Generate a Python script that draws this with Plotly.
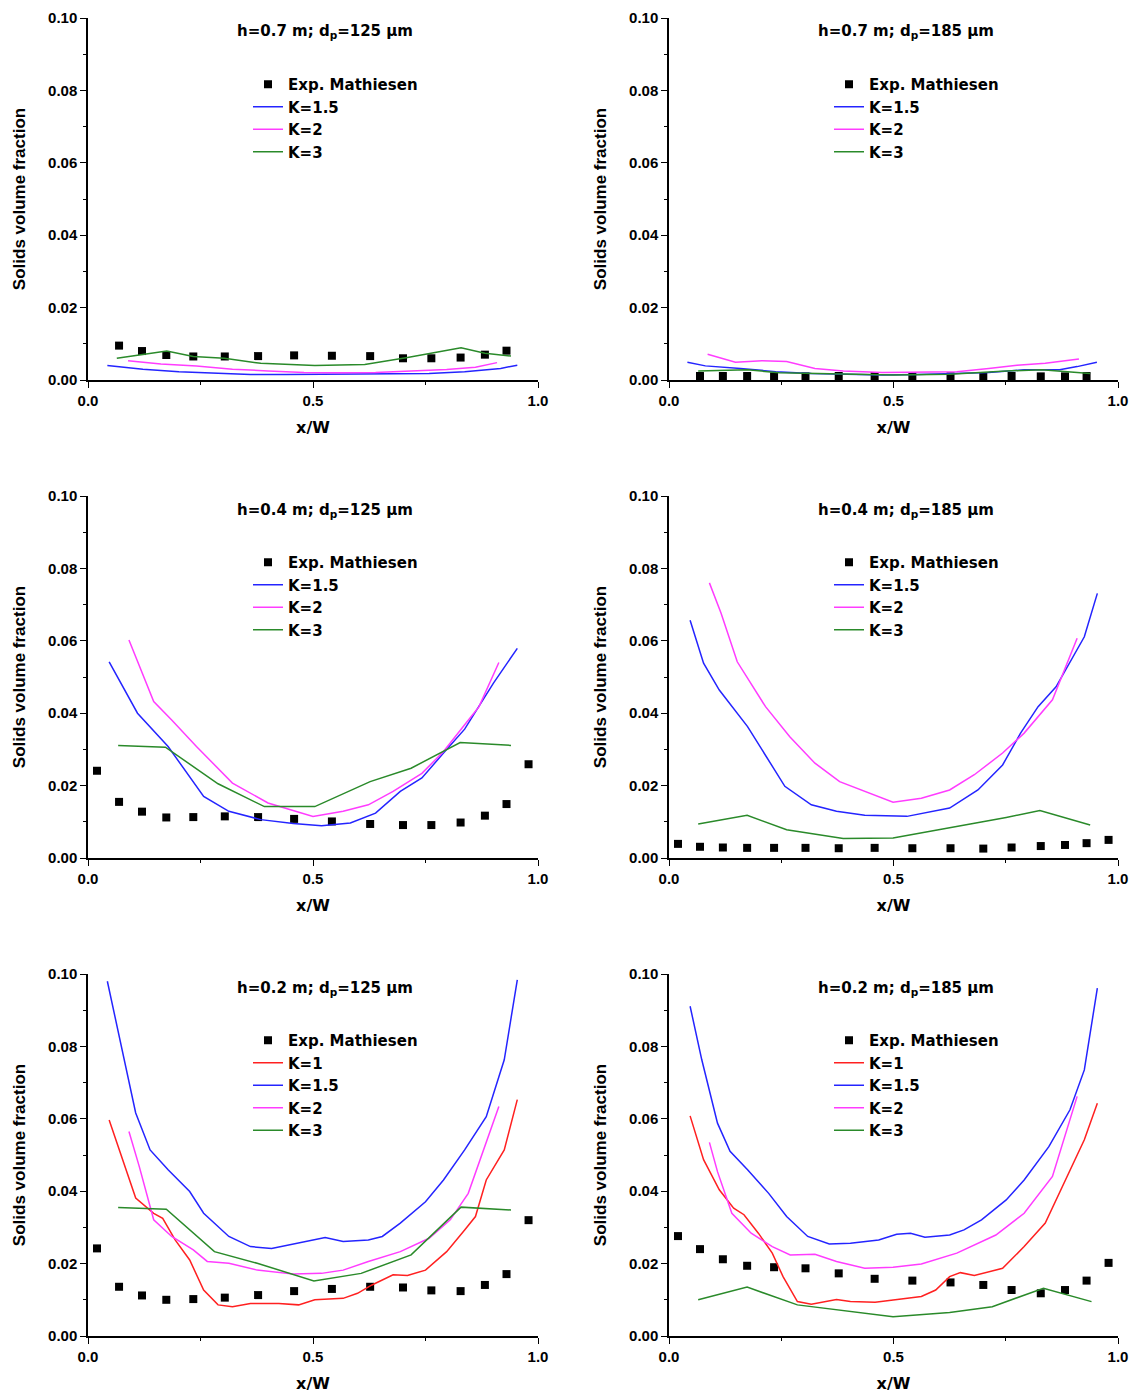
import plotly.graph_objects as go

# ---------------------------------------------------------------- data
# Experimental positions (x/W) of the Mathiesen measurements
EXP_X_FULL = [0.020, 0.069, 0.120, 0.174, 0.234, 0.304, 0.378, 0.458,
              0.542, 0.627, 0.700, 0.763, 0.828, 0.882, 0.930, 0.979]
EXP_X_INNER = EXP_X_FULL[1:15]

# h = 0.7 m, dp = 125 um
EXP_07_125 = [0.0095, 0.0080, 0.0069, 0.0065, 0.0065, 0.0066, 0.0068,
              0.0067, 0.0066, 0.0060, 0.0060, 0.0062, 0.0070, 0.0081]
K15_07_125_X = [0.043, 0.122, 0.202, 0.281, 0.361, 0.440, 0.519, 0.599, 0.678, 0.758, 0.837, 0.917, 0.954]
K15_07_125_Y = [0.0040, 0.0030, 0.0023, 0.0018, 0.0015, 0.0015, 0.0016, 0.0017, 0.0018, 0.0018, 0.0023, 0.0032, 0.0041]
K2_07_125_X = [0.089, 0.162, 0.241, 0.321, 0.400, 0.480, 0.559, 0.639, 0.718, 0.797, 0.861, 0.909]
K2_07_125_Y = [0.0053, 0.0044, 0.0039, 0.0030, 0.0025, 0.0021, 0.0020, 0.0021, 0.0025, 0.0029, 0.0035, 0.0048]
K3_07_125_X = [0.064, 0.175, 0.234, 0.303, 0.384, 0.504, 0.615, 0.710, 0.829, 0.882, 0.940]
K3_07_125_Y = [0.0060, 0.0080, 0.0065, 0.0060, 0.0046, 0.0040, 0.0043, 0.0062, 0.0089, 0.0074, 0.0066]

# h = 0.7 m, dp = 185 um
EXP_07_185 = [0.0011, 0.0011, 0.0011, 0.0010, 0.0010, 0.0011, 0.0011,
              0.0010, 0.0010, 0.0010, 0.0011, 0.0010, 0.0010, 0.0011]
K15_07_185_X = [0.041, 0.081, 0.159, 0.238, 0.317, 0.396, 0.475, 0.554, 0.633, 0.712, 0.791, 0.870, 0.909, 0.953]
K15_07_185_Y = [0.0049, 0.0039, 0.0032, 0.0023, 0.0018, 0.0015, 0.0014, 0.0015, 0.0017, 0.0021, 0.0028, 0.0028, 0.0037, 0.0049]
K2_07_185_X = [0.086, 0.148, 0.207, 0.262, 0.325, 0.388, 0.475, 0.562, 0.641, 0.712, 0.775, 0.838, 0.913]
K2_07_185_Y = [0.0071, 0.0049, 0.0053, 0.0051, 0.0032, 0.0025, 0.0021, 0.0021, 0.0023, 0.0032, 0.0041, 0.0046, 0.0058]
K3_07_185_X = [0.065, 0.175, 0.246, 0.388, 0.499, 0.625, 0.751, 0.830, 0.938]
K3_07_185_Y = [0.0025, 0.0028, 0.0020, 0.0016, 0.0014, 0.0016, 0.0025, 0.0028, 0.0018]

# h = 0.4 m, dp = 125 um
EXP_04_125 = [0.0241, 0.0155, 0.0128, 0.0112, 0.0113, 0.0115, 0.0113, 0.0108,
              0.0101, 0.0094, 0.0091, 0.0091, 0.0098, 0.0117, 0.0149, 0.0259]
K15_04_125_X = [0.047, 0.110, 0.178, 0.257, 0.313, 0.384, 0.456, 0.519, 0.583, 0.639, 0.694, 0.742, 0.790, 0.837, 0.901, 0.954]
K15_04_125_Y = [0.0542, 0.0400, 0.0308, 0.0170, 0.0129, 0.0106, 0.0095, 0.0089, 0.0097, 0.0124, 0.0184, 0.0221, 0.0290, 0.0356, 0.0483, 0.0579]
K2_04_125_X = [0.091, 0.146, 0.186, 0.241, 0.321, 0.400, 0.500, 0.567, 0.623, 0.678, 0.742, 0.790, 0.837, 0.869, 0.913]
K2_04_125_Y = [0.0602, 0.0432, 0.0381, 0.0308, 0.0207, 0.0152, 0.0115, 0.0129, 0.0147, 0.0184, 0.0234, 0.0294, 0.0368, 0.0418, 0.0540]
K3_04_125_X = [0.067, 0.172, 0.289, 0.392, 0.504, 0.627, 0.718, 0.827, 0.940]
K3_04_125_Y = [0.0311, 0.0306, 0.0205, 0.0142, 0.0142, 0.0211, 0.0248, 0.0319, 0.0311]

# h = 0.4 m, dp = 185 um
EXP_04_185 = [0.0039, 0.0031, 0.0029, 0.0028, 0.0028, 0.0028, 0.0027, 0.0028,
              0.0027, 0.0027, 0.0026, 0.0029, 0.0033, 0.0036, 0.0041, 0.0050]
K15_04_185_X = [0.047, 0.077, 0.112, 0.175, 0.258, 0.317, 0.373, 0.436, 0.530, 0.625, 0.688, 0.743, 0.783, 0.822, 0.862, 0.925, 0.954]
K15_04_185_Y = [0.0657, 0.0538, 0.0464, 0.0363, 0.0198, 0.0147, 0.0129, 0.0118, 0.0115, 0.0138, 0.0188, 0.0257, 0.0345, 0.0418, 0.0473, 0.0611, 0.0731]
K2_04_185_X = [0.090, 0.116, 0.152, 0.215, 0.269, 0.325, 0.380, 0.436, 0.499, 0.562, 0.625, 0.680, 0.743, 0.791, 0.854, 0.909]
K2_04_185_Y = [0.0760, 0.0676, 0.0542, 0.0418, 0.0335, 0.0262, 0.0211, 0.0184, 0.0154, 0.0165, 0.0188, 0.0230, 0.0290, 0.0345, 0.0437, 0.0607]
K3_04_185_X = [0.065, 0.174, 0.262, 0.388, 0.499, 0.625, 0.751, 0.826, 0.938]
K3_04_185_Y = [0.0094, 0.0118, 0.0078, 0.0054, 0.0055, 0.0083, 0.0112, 0.0131, 0.0091]

# h = 0.2 m, dp = 125 um
EXP_02_125 = [0.0242, 0.0136, 0.0112, 0.0100, 0.0102, 0.0106, 0.0113, 0.0124,
              0.0130, 0.0136, 0.0134, 0.0126, 0.0124, 0.0141, 0.0171, 0.0320]
K1_02_125_X = [0.047, 0.075, 0.106, 0.146, 0.166, 0.194, 0.226, 0.257, 0.289, 0.321, 0.361, 0.424, 0.468,
               0.504, 0.567, 0.599, 0.631, 0.678, 0.710, 0.750, 0.797, 0.837, 0.861, 0.885, 0.925, 0.954]
K1_02_125_Y = [0.0597, 0.0496, 0.0381, 0.0339, 0.0325, 0.0265, 0.0210, 0.0127, 0.0086, 0.0081, 0.0090, 0.0090, 0.0086,
               0.0100, 0.0104, 0.0118, 0.0141, 0.0169, 0.0167, 0.0182, 0.0233, 0.0293, 0.0330, 0.0431, 0.0514, 0.0653]
K15_02_125_X = [0.043, 0.075, 0.106, 0.138, 0.178, 0.226, 0.257, 0.313, 0.361, 0.408, 0.464, 0.527,
                0.567, 0.623, 0.654, 0.694, 0.750, 0.790, 0.837, 0.885, 0.925, 0.954]
K15_02_125_Y = [0.0980, 0.0791, 0.0616, 0.0514, 0.0459, 0.0399, 0.0339, 0.0275, 0.0247, 0.0242, 0.0256, 0.0272,
                0.0261, 0.0265, 0.0275, 0.0312, 0.0371, 0.0431, 0.0514, 0.0606, 0.0763, 0.0984]
K2_02_125_X = [0.091, 0.114, 0.146, 0.186, 0.234, 0.265, 0.313, 0.376, 0.456, 0.519, 0.567, 0.623, 0.694, 0.758, 0.805, 0.845, 0.913]
K2_02_125_Y = [0.0565, 0.0468, 0.0321, 0.0275, 0.0238, 0.0206, 0.0201, 0.0182, 0.0171, 0.0173, 0.0182, 0.0206, 0.0233, 0.0270, 0.0321, 0.0394, 0.0634]
K3_02_125_X = [0.067, 0.174, 0.281, 0.376, 0.502, 0.607, 0.718, 0.829, 0.940]
K3_02_125_Y = [0.0355, 0.0350, 0.0233, 0.0201, 0.0152, 0.0173, 0.0224, 0.0356, 0.0348]

# h = 0.2 m, dp = 185 um
EXP_02_185 = [0.0276, 0.0240, 0.0212, 0.0194, 0.0190, 0.0187, 0.0173, 0.0158,
              0.0153, 0.0148, 0.0141, 0.0127, 0.0118, 0.0127, 0.0153, 0.0202]
K1_02_185_X = [0.047, 0.077, 0.112, 0.144, 0.167, 0.199, 0.230, 0.254, 0.286, 0.317, 0.373, 0.404, 0.459,
               0.515, 0.562, 0.594, 0.625, 0.649, 0.680, 0.743, 0.791, 0.838, 0.886, 0.925, 0.954]
K1_02_185_Y = [0.0608, 0.0487, 0.0404, 0.0353, 0.0335, 0.0284, 0.0229, 0.0164, 0.0095, 0.0088, 0.0101, 0.0095, 0.0093,
               0.0101, 0.0109, 0.0127, 0.0164, 0.0175, 0.0167, 0.0187, 0.0247, 0.0312, 0.0441, 0.0542, 0.0643]
K15_02_185_X = [0.047, 0.073, 0.108, 0.136, 0.175, 0.222, 0.262, 0.309, 0.357, 0.404, 0.467, 0.507,
                0.538, 0.570, 0.625, 0.657, 0.696, 0.751, 0.791, 0.846, 0.893, 0.925, 0.954]
K15_02_185_Y = [0.0911, 0.0763, 0.0588, 0.0510, 0.0459, 0.0394, 0.0330, 0.0275, 0.0254, 0.0256, 0.0265, 0.0281,
                0.0284, 0.0273, 0.0279, 0.0293, 0.0321, 0.0376, 0.0431, 0.0523, 0.0625, 0.0735, 0.0961]
K2_02_185_X = [0.090, 0.108, 0.140, 0.183, 0.230, 0.270, 0.325, 0.373, 0.436, 0.499, 0.562, 0.641, 0.728, 0.791, 0.854, 0.909]
K2_02_185_Y = [0.0535, 0.0454, 0.0339, 0.0284, 0.0247, 0.0224, 0.0226, 0.0206, 0.0187, 0.0190, 0.0199, 0.0229, 0.0279, 0.0339, 0.0441, 0.0662]
K3_02_185_X = [0.065, 0.174, 0.286, 0.373, 0.499, 0.625, 0.720, 0.834, 0.941]
K3_02_185_Y = [0.0100, 0.0135, 0.0086, 0.0072, 0.0053, 0.0065, 0.0081, 0.0132, 0.0095]

PANEL_TITLES = [
    "h=0.7 m; d<sub>p</sub>=125 \u03bcm", "h=0.7 m; d<sub>p</sub>=185 \u03bcm",
    "h=0.4 m; d<sub>p</sub>=125 \u03bcm", "h=0.4 m; d<sub>p</sub>=185 \u03bcm",
    "h=0.2 m; d<sub>p</sub>=125 \u03bcm", "h=0.2 m; d<sub>p</sub>=185 \u03bcm",
]

# ---------------------------------------------------------------- styling
W, H = 1137, 1396
SANS = "Liberation Sans, Arial, sans-serif"
WIDE = "DejaVu Sans, Verdana, sans-serif"
COLORS = {"K=1": "#ff2020", "K=1.5": "#2424ff", "K=2": "#ff3cff", "K=3": "#2a8a2a"}

# plot-area pixel boxes (left, right) and (top, bottom)
COLS_PX = [(88, 538), (669, 1118)]
ROWS_PX = [(18, 380), (496, 858), (974, 1336)]

panels = [
    (EXP_X_INNER, EXP_07_125, [("K=1.5", K15_07_125_X, K15_07_125_Y), ("K=2", K2_07_125_X, K2_07_125_Y), ("K=3", K3_07_125_X, K3_07_125_Y)]),
    (EXP_X_INNER, EXP_07_185, [("K=1.5", K15_07_185_X, K15_07_185_Y), ("K=2", K2_07_185_X, K2_07_185_Y), ("K=3", K3_07_185_X, K3_07_185_Y)]),
    (EXP_X_FULL, EXP_04_125, [("K=1.5", K15_04_125_X, K15_04_125_Y), ("K=2", K2_04_125_X, K2_04_125_Y), ("K=3", K3_04_125_X, K3_04_125_Y)]),
    (EXP_X_FULL, EXP_04_185, [("K=1.5", K15_04_185_X, K15_04_185_Y), ("K=2", K2_04_185_X, K2_04_185_Y), ("K=3", K3_04_185_X, K3_04_185_Y)]),
    (EXP_X_FULL, EXP_02_125, [("K=1", K1_02_125_X, K1_02_125_Y), ("K=1.5", K15_02_125_X, K15_02_125_Y), ("K=2", K2_02_125_X, K2_02_125_Y), ("K=3", K3_02_125_X, K3_02_125_Y)]),
    (EXP_X_FULL, EXP_02_185, [("K=1", K1_02_185_X, K1_02_185_Y), ("K=1.5", K15_02_185_X, K15_02_185_Y), ("K=2", K2_02_185_X, K2_02_185_Y), ("K=3", K3_02_185_X, K3_02_185_Y)]),
]

fig = go.Figure()
layout = dict(
    width=W, height=H,
    margin=dict(l=0, r=0, t=0, b=0, autoexpand=False),
    paper_bgcolor="white", plot_bgcolor="white",
    font=dict(family=SANS, color="black", weight="bold"),
    annotations=[],
)

for i, (ex, ey, sims) in enumerate(panels):
    r, c = divmod(i, 2)
    n = i + 1
    suffix = "" if n == 1 else str(n)
    xa, ya = "x" + suffix, "y" + suffix
    leg = "legend" + suffix
    (l, rr), (t, b) = COLS_PX[c], ROWS_PX[r]

    fig.add_trace(go.Scatter(
        x=ex, y=ey, mode="markers", name="Exp. Mathiesen",
        marker=dict(symbol="square", size=8, color="black"),
        xaxis=xa, yaxis=ya, legend=leg,
    ))
    for name, sx, sy in sims:
        fig.add_trace(go.Scatter(
            x=sx, y=sy, mode="lines", name=name,
            line=dict(color=COLORS[name], width=1.5),
            xaxis=xa, yaxis=ya, legend=leg,
        ))

    axis_common = dict(
        automargin=False,
        showline=True, linecolor="black", linewidth=1.5, mirror=False,
        showgrid=False, zeroline=False, ticks="outside", ticklen=6,
        tickwidth=1.3, tickcolor="black",
        tickfont=dict(family=SANS, size=15, color="black", weight="bold"),
    )
    layout["xaxis" + suffix] = dict(
        axis_common, domain=[l / W, rr / W], range=[0, 1.0],
        tick0=0, dtick=0.5, tickformat=".1f", anchor=ya,
        minor=dict(ticks="outside", ticklen=3, dtick=0.25, tickcolor="black", tickwidth=1.3),
        title=dict(text="x/W", standoff=14, font=dict(family=WIDE, size=16, weight="bold")),
    )
    layout["yaxis" + suffix] = dict(
        axis_common, domain=[1 - b / H, 1 - t / H], range=[0, 0.10],
        tick0=0, dtick=0.02, tickformat=".2f", anchor=xa,
        minor=dict(ticks="outside", ticklen=3, dtick=0.01, tickcolor="black", tickwidth=1.3),
        title=dict(text="Solids volume fraction", standoff=18, font=dict(family=SANS, size=17, weight="bold")),
    )
    layout[leg] = dict(
        x=(l + 160) / W, y=1 - (t + 50) / H, xanchor="left", yanchor="top",
        bgcolor="rgba(0,0,0,0)", borderwidth=0,
        font=dict(family=WIDE, size=15, color="black", weight="bold"),
        tracegroupgap=0, itemwidth=30,
    )
    layout["annotations"].append(dict(
        text=PANEL_TITLES[i], xref="paper", yref="paper",
        x=(l + 0.527 * (rr - l)) / W, y=1 - (t + 14) / H,
        xanchor="center", yanchor="middle", showarrow=False,
        font=dict(family=WIDE, size=15, color="black", weight="bold"),
    ))

fig.update_layout(**layout)
fig.write_html("out.html")
